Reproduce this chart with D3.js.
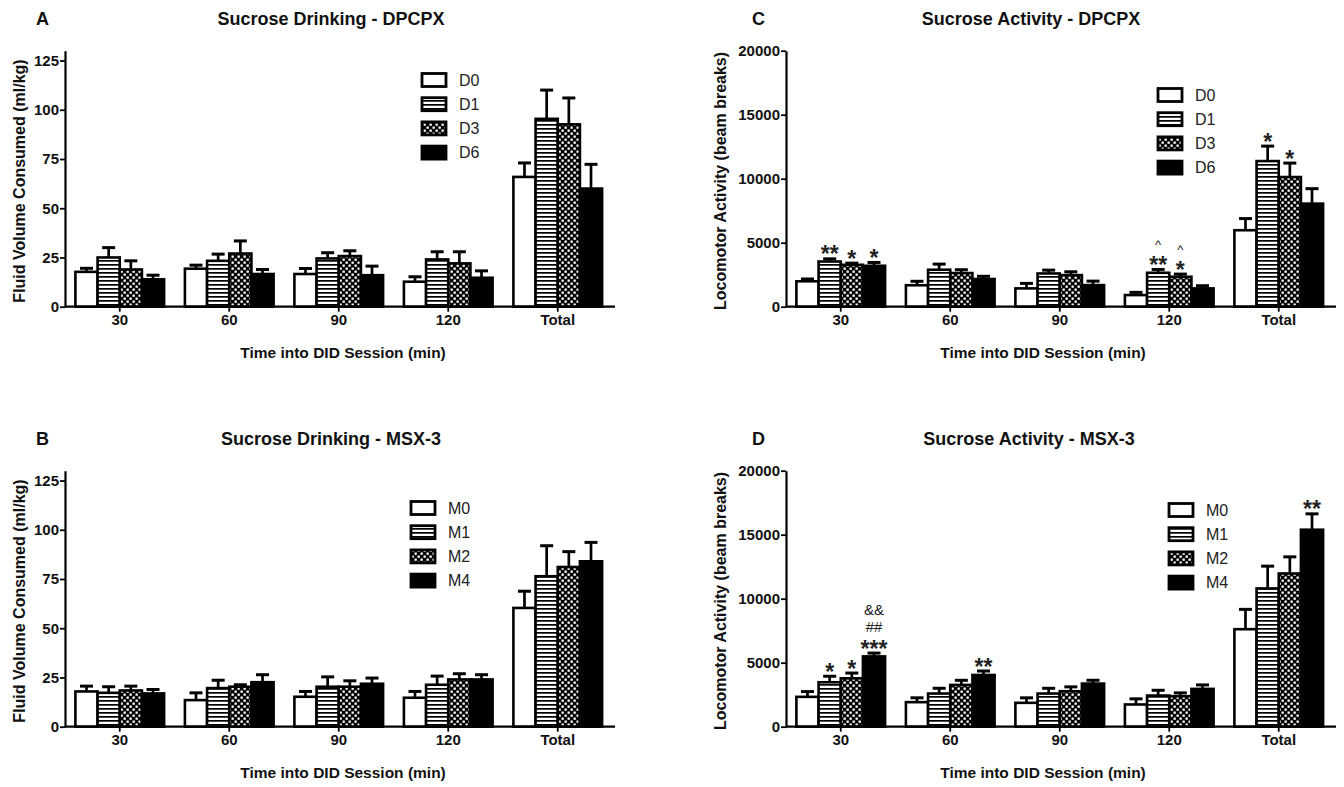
<!DOCTYPE html>
<html><head><meta charset="utf-8">
<script src="https://cdn.jsdelivr.net/npm/d3@7"></script>
<style>body{margin:0;background:#fff}</style>
</head><body>
<svg id="chart" width="1344" height="787"></svg>
<script>
// ---------------- DATA ----------------
const categories = ["30", "60", "90", "120", "Total"];
const seriesDPCPX = ["D0", "D1", "D3", "D6"];
const seriesMSX = ["M0", "M1", "M2", "M4"];
const drinkTicks = [0, 25, 50, 75, 100, 125];
const activityTicks = [0, 5000, 10000, 15000, 20000];

// Panel A: Sucrose Drinking - DPCPX (rows = series, cols = categories)
const drinkDpcpxMean = [
  [17.7, 19.3, 16.6, 12.7, 65.9],
  [25.0, 23.3, 24.5, 24.0, 95.4],
  [18.9, 27.0, 25.7, 22.0, 92.6],
  [13.9, 16.6, 16.0, 14.7, 60.0]
];
const drinkDpcpxSem = [
  [1.8, 1.8, 2.8, 2.5, 7.1],
  [5.0, 3.4, 2.9, 3.9, 14.6],
  [4.4, 6.4, 2.7, 5.9, 13.4],
  [2.1, 2.3, 4.6, 3.5, 12.3]
];
// Panel B: Sucrose Drinking - MSX-3
const drinkMsxMean = [
  [17.9, 13.5, 15.2, 14.7, 60.3],
  [17.2, 19.6, 20.3, 21.3, 76.4],
  [18.4, 20.3, 20.3, 24.0, 81.1],
  [16.9, 22.6, 21.8, 24.0, 84.0]
];
const drinkMsxSem = [
  [2.7, 3.7, 2.7, 3.2, 8.5],
  [3.1, 4.0, 5.0, 4.4, 15.5],
  [2.2, 1.0, 3.0, 2.9, 7.8],
  [2.0, 3.8, 2.9, 2.4, 9.6]
];
// Panel C: Sucrose Activity - DPCPX
const activityDpcpxMean = [
  [1985, 1675, 1430, 909, 5974],
  [3530, 2887, 2597, 2650, 11377],
  [3273, 2629, 2468, 2338, 10130],
  [3196, 2165, 1688, 1430, 8052]
];
const activityDpcpxSem = [
  [180, 310, 390, 210, 910],
  [210, 440, 260, 260, 1170],
  [130, 260, 260, 210, 1090],
  [260, 210, 310, 210, 1170]
];
// Panel D: Sucrose Activity - MSX-3
const activityMsxMean = [
  [2332, 1917, 1865, 1736, 7617],
  [3472, 2591, 2591, 2435, 10803],
  [3782, 3264, 2772, 2383, 11969],
  [5492, 4041, 3368, 2953, 15389]
];
const activityMsxSem = [
  [410, 340, 390, 440, 1550],
  [470, 410, 410, 410, 1740],
  [410, 360, 340, 260, 1300],
  [260, 310, 260, 310, 1240]
];
// significance marks: category, series index, lines from bottom to top
const activityDpcpxMarks = [
  {cat: "30", s: 1, lines: ["**"]},
  {cat: "30", s: 2, lines: ["*"]},
  {cat: "30", s: 3, lines: ["*"]},
  {cat: "120", s: 1, lines: ["**", "^"]},
  {cat: "120", s: 2, lines: ["*", "^"]},
  {cat: "Total", s: 1, lines: ["*"]},
  {cat: "Total", s: 2, lines: ["*"]}
];
const activityMsxMarks = [
  {cat: "30", s: 1, lines: ["*"]},
  {cat: "30", s: 2, lines: ["*"]},
  {cat: "30", s: 3, lines: ["***", "##", "&&"]},
  {cat: "60", s: 3, lines: ["**"]},
  {cat: "Total", s: 3, lines: ["**"]}
];

// ---------------- DRAWING ----------------
const svg = d3.select("#chart");
const FONT = "'Liberation Sans', Arial, Helvetica, sans-serif";
const TICKFONT = "'Liberation Sans Narrow', 'Arial Narrow', 'Liberation Sans', Arial, sans-serif";
const defs = svg.append("defs");

const ps = defs.append("pattern").attr("id", "hstripe").attr("patternUnits", "userSpaceOnUse")
  .attr("width", 4).attr("height", 4);
ps.append("rect").attr("width", 4).attr("height", 4).attr("fill", "#fff");
ps.append("rect").attr("width", 4).attr("height", 1.7).attr("fill", "#000");

const pd = defs.append("pattern").attr("id", "dots").attr("patternUnits", "userSpaceOnUse")
  .attr("width", 6).attr("height", 6);
pd.append("rect").attr("width", 6).attr("height", 6).attr("fill", "#000");
pd.append("rect").attr("x", 0.5).attr("y", 0.5).attr("width", 2.3).attr("height", 2.3).attr("fill", "#fff");
pd.append("rect").attr("x", 3.5).attr("y", 3.5).attr("width", 2.3).attr("height", 2.3).attr("fill", "#fff");

const fills = ["#fff", "url(#hstripe)", "url(#dots)", "#000"];

// glyph visual centre above baseline (fraction of font size), font sizes per symbol
const glyphShift = {"*": 0.5, "^": 0.55, "#": 0.36, "&": 0.36};
const glyphSize = {"*": 23, "^": 13, "#": 15, "&": 15};
const ASC = 0.905, DESC = 0.212;

function drawPanel(cfg) {
  const g = svg.append("g").attr("transform", `translate(0,${cfg.dy})`);
  const x0 = d3.scaleBand().domain(categories).range([cfg.xl, cfg.xr])
    .paddingInner(0.19).paddingOuter(0.095);
  const x1 = d3.scaleBand().domain(d3.range(cfg.series.length)).range([0, x0.bandwidth()]);
  const y = d3.scaleLinear().domain([0, cfg.ymax]).range([306.7, 50.7]);

  const rows = [];
  cfg.mean.forEach((row, i) => row.forEach((v, j) => rows.push({i, cat: categories[j], v, e: cfg.sem[i][j]})));

  // bars
  g.selectAll("rect.bar").data(rows).join("rect").attr("class", "bar")
    .attr("x", d => x0(d.cat) + x1(d.i))
    .attr("y", d => y(d.v))
    .attr("width", x1.bandwidth())
    .attr("height", d => y(0) - y(d.v))
    .attr("fill", d => fills[d.i])
    .attr("stroke", "#000").attr("stroke-width", 2.6);

  // error bars (upper only)
  const eb = g.selectAll("g.err").data(rows).join("g").attr("class", "err");
  eb.append("line")
    .attr("x1", d => x0(d.cat) + x1(d.i) + x1.bandwidth() / 2)
    .attr("x2", d => x0(d.cat) + x1(d.i) + x1.bandwidth() / 2)
    .attr("y1", d => y(d.v)).attr("y2", d => y(d.v + d.e))
    .attr("stroke", "#000").attr("stroke-width", 2.7);
  eb.append("line")
    .attr("x1", d => x0(d.cat) + x1(d.i) + x1.bandwidth() / 2 - 6.5)
    .attr("x2", d => x0(d.cat) + x1(d.i) + x1.bandwidth() / 2 + 6.5)
    .attr("y1", d => y(d.v + d.e)).attr("y2", d => y(d.v + d.e))
    .attr("stroke", "#000").attr("stroke-width", 3);

  // axes
  const ya = g.append("g").attr("transform", `translate(${cfg.xl},0)`)
    .call(d3.axisLeft(y).tickValues(cfg.ticks).tickSize(5).tickSizeOuter(0).tickFormat(d3.format("d")));
  ya.select(".domain").attr("stroke-width", 2.2);
  ya.selectAll(".tick line").attr("stroke-width", 1.8);
  ya.selectAll(".tick text").attr("font-family", TICKFONT).attr("font-size", 15)
    .attr("font-weight", "bold").attr("fill", "#111").attr("x", -6);

  const xa = g.append("g").attr("transform", `translate(0,${y(0)})`)
    .call(d3.axisBottom(x0).tickSize(5).tickSizeOuter(0));
  xa.select(".domain").attr("stroke-width", 2.2).attr("d", `M${cfg.xl},0H${cfg.xr + 2.5}`);
  xa.selectAll(".tick line").attr("stroke-width", 1.8);
  xa.selectAll(".tick text").attr("font-family", TICKFONT).attr("font-size", 15)
    .attr("font-weight", "bold").attr("fill", "#111").attr("y", 8);

  // annotations: lines stacked upward, each text box sitting just above the previous one
  cfg.marks.forEach(m => {
    const j = categories.indexOf(m.cat);
    const cx = x0(m.cat) + x1(m.s) + x1.bandwidth() / 2;
    const capY = y(cfg.mean[m.s][j] + cfg.sem[m.s][j]);
    let topEdge = null;
    m.lines.forEach((line, k) => {
      const ch = line[0];
      const fs = glyphSize[ch];
      let base;
      if (k === 0) base = capY - 8 + glyphShift[ch] * fs;
      else base = topEdge - 0.5 - DESC * fs;
      topEdge = base - ASC * fs;
      g.append("text").attr("x", cx).attr("y", base)
        .attr("text-anchor", "middle").attr("font-family", FONT).attr("font-size", fs)
        .attr("font-weight", ch === "*" ? "bold" : "normal")
        .attr("fill", "#222").text(line);
    });
  });

  // legend
  const lg = g.append("g");
  cfg.series.forEach((s, i) => {
    const cy = cfg.legY + i * 24.2;
    lg.append("rect").attr("x", cfg.legX).attr("y", cy - 6.5).attr("width", 24).attr("height", 13)
      .attr("fill", fills[i]).attr("stroke", "#000").attr("stroke-width", 2.8);
    lg.append("text").attr("x", cfg.legX + 37).attr("y", cy).attr("dy", "0.36em")
      .attr("font-family", FONT).attr("font-size", 16).attr("fill", "#222").text(s);
  });

  // titles
  g.append("text").attr("x", cfg.titleX).attr("y", 25).attr("text-anchor", "middle")
    .attr("font-family", FONT).attr("font-weight", "bold").attr("font-size", 18).attr("fill", "#111")
    .text(cfg.title);
  g.append("text").attr("x", cfg.letterX).attr("y", 25)
    .attr("font-family", FONT).attr("font-weight", "bold").attr("font-size", 18).attr("fill", "#111")
    .text(cfg.letter);
  g.append("text").attr("x", cfg.xTitleX).attr("y", 358).attr("text-anchor", "middle")
    .attr("font-family", FONT).attr("font-weight", "bold").attr("font-size", 15.5).attr("fill", "#111")
    .text("Time into DID Session (min)");
  g.append("text").attr("transform", `translate(${cfg.yTitleX},181) rotate(-90)`).attr("text-anchor", "middle")
    .attr("font-family", FONT).attr("font-weight", "bold").attr("font-size", 16).attr("fill", "#111")
    .text(cfg.yTitle);
}

drawPanel({dy: 0, xl: 65, xr: 612.5, ymax: 130, ticks: drinkTicks, series: seriesDPCPX,
  mean: drinkDpcpxMean, sem: drinkDpcpxSem, marks: [], legX: 422, legY: 80,
  title: "Sucrose Drinking - DPCPX", titleX: 331, letter: "A", letterX: 36, xTitleX: 343,
  yTitle: "Fluid Volume Consumed (ml/kg)", yTitleX: 25});
drawPanel({dy: 420, xl: 65, xr: 612.5, ymax: 130, ticks: drinkTicks, series: seriesMSX,
  mean: drinkMsxMean, sem: drinkMsxSem, marks: [], legX: 411, legY: 88,
  title: "Sucrose Drinking - MSX-3", titleX: 331, letter: "B", letterX: 36, xTitleX: 343,
  yTitle: "Fluid Volume Consumed (ml/kg)", yTitleX: 25});
drawPanel({dy: 0, xl: 786, xr: 1333.5, ymax: 20000, ticks: activityTicks, series: seriesDPCPX,
  mean: activityDpcpxMean, sem: activityDpcpxSem, marks: activityDpcpxMarks, legX: 1158, legY: 95,
  title: "Sucrose Activity - DPCPX", titleX: 1031, letter: "C", letterX: 752, xTitleX: 1043,
  yTitle: "Locomotor Activity (beam breaks)", yTitleX: 726});
drawPanel({dy: 420, xl: 786, xr: 1333.5, ymax: 20000, ticks: activityTicks, series: seriesMSX,
  mean: activityMsxMean, sem: activityMsxSem, marks: activityMsxMarks, legX: 1169, legY: 90,
  title: "Sucrose Activity - MSX-3", titleX: 1029, letter: "D", letterX: 752, xTitleX: 1043,
  yTitle: "Locomotor Activity (beam breaks)", yTitleX: 726});
</script>
</body></html>
